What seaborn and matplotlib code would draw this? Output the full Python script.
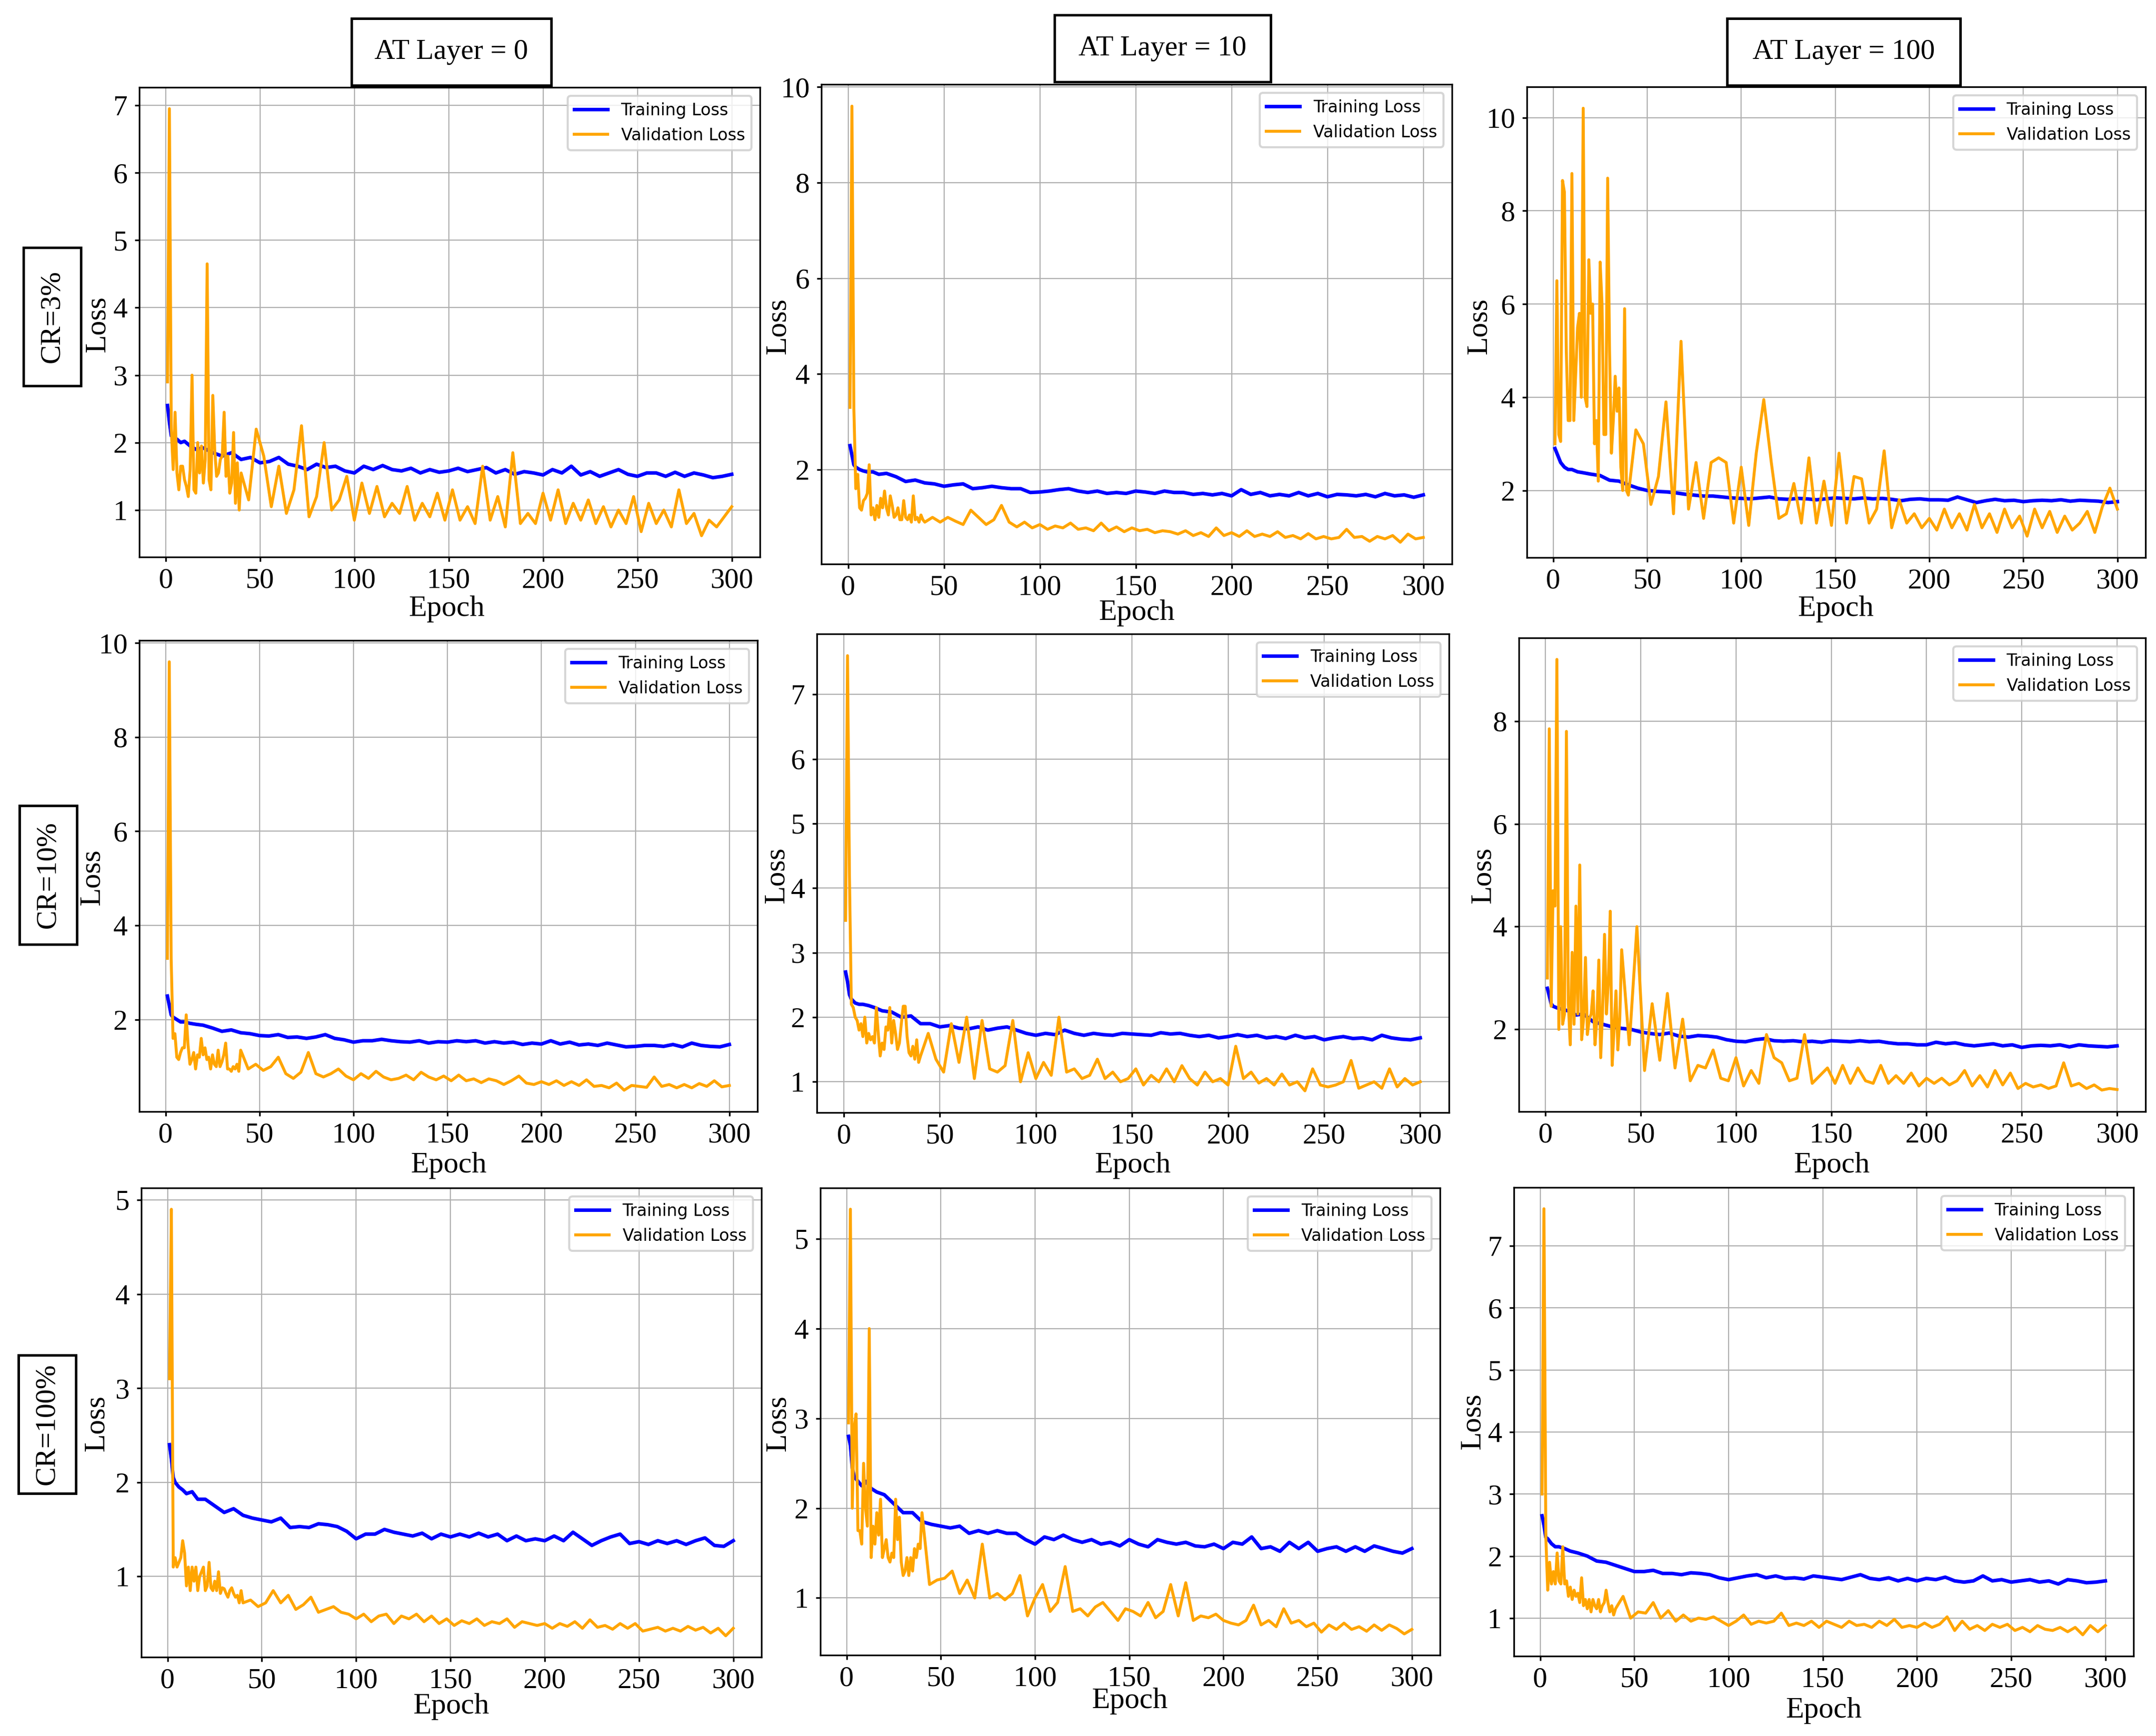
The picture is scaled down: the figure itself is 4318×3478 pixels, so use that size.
import seaborn as sns
import matplotlib.pyplot as plt
from matplotlib.patches import Rectangle

EPOCH_TRAIN = [1, 2, 3, 4, 6, 8, 10, 13, 16,
               20, 25, 30, 35, 40, 45, 50, 55, 60, 65,
               70, 75, 80, 85, 90, 95, 100, 105, 110, 115,
               120, 125, 130, 135, 140, 145, 150, 155, 160, 165,
               170, 175, 180, 185, 190, 195, 200, 205, 210, 215,
               220, 225, 230, 235, 240, 245, 250, 255, 260, 265,
               270, 275, 280, 285, 290, 295, 300]
EPOCH_VAL = [1, 2, 3, 4, 5, 6, 7, 8, 9, 10,
             11, 12, 13, 14, 15, 16, 17, 18, 19, 20,
             21, 22, 23, 24, 25, 26, 27, 28, 29, 30,
             31, 32, 33, 34, 35, 36, 37, 38, 39, 40,
             44, 48, 52, 56, 60, 64, 68, 72, 76, 80,
             84, 88, 92, 96, 100, 104, 108, 112, 116, 120,
             124, 128, 132, 136, 140, 144, 148, 152, 156, 160,
             164, 168, 172, 176, 180, 184, 188, 192, 196, 200,
             204, 208, 212, 216, 220, 224, 228, 232, 236, 240,
             244, 248, 252, 256, 260, 264, 268, 272, 276, 280,
             284, 288, 292, 296, 300]

# CR=3%
train_cr3_at0 = [2.55, 2.3, 2.1, 2.08, 2.05, 2.0, 2.02, 1.95, 1.9,
                 1.92, 1.85, 1.8, 1.85, 1.75, 1.78, 1.7, 1.72, 1.78, 1.68,
                 1.65, 1.6, 1.68, 1.63, 1.65, 1.58, 1.55, 1.65, 1.6, 1.66,
                 1.6, 1.58, 1.62, 1.55, 1.6, 1.56, 1.58, 1.62, 1.57, 1.6,
                 1.63, 1.55, 1.6, 1.53, 1.57, 1.55, 1.52, 1.6, 1.55, 1.65,
                 1.52, 1.57, 1.5, 1.55, 1.6, 1.53, 1.5, 1.55, 1.55, 1.5,
                 1.56, 1.5, 1.55, 1.52, 1.48, 1.5, 1.53]
val_cr3_at0 = [2.9, 6.95, 2.2, 1.6, 2.45, 1.55, 1.3, 1.65, 1.65, 1.45,
               1.35, 1.2, 1.6, 3.0, 1.3, 1.25, 2.0, 1.55, 1.95, 1.4,
               1.75, 4.65, 1.45, 1.3, 2.7, 1.9, 1.5, 1.55, 1.75, 1.8,
               2.45, 1.5, 1.8, 1.25, 1.4, 2.15, 1.1, 1.7, 1.0, 1.55,
               1.15, 2.2, 1.8, 1.05, 1.65, 0.95, 1.3, 2.25, 0.9, 1.2,
               2.0, 1.0, 1.15, 1.5, 0.85, 1.4, 0.95, 1.35, 0.9, 1.1,
               0.95, 1.35, 0.85, 1.1, 0.9, 1.25, 0.85, 1.3, 0.85, 1.05,
               0.8, 1.65, 0.85, 1.2, 0.75, 1.85, 0.8, 0.95, 0.8, 1.25,
               0.85, 1.3, 0.8, 1.1, 0.85, 1.15, 0.8, 1.05, 0.75, 1.0,
               0.8, 1.2, 0.68, 1.1, 0.8, 1.0, 0.75, 1.3, 0.8, 0.95,
               0.62, 0.85, 0.75, 0.9, 1.05]

train_cr3_at10 = [2.5, 2.3, 2.1, 2.05, 2.0, 1.97, 1.95, 1.95, 1.9,
                  1.92, 1.85, 1.75, 1.78, 1.72, 1.7, 1.65, 1.68, 1.7, 1.6,
                  1.62, 1.65, 1.62, 1.6, 1.6, 1.52, 1.53, 1.55, 1.58, 1.6,
                  1.55, 1.52, 1.55, 1.5, 1.52, 1.5, 1.55, 1.53, 1.5, 1.55,
                  1.52, 1.52, 1.48, 1.5, 1.47, 1.5, 1.45, 1.58, 1.48, 1.52,
                  1.45, 1.48, 1.45, 1.52, 1.45, 1.5, 1.43, 1.48, 1.47, 1.45,
                  1.48, 1.43, 1.5, 1.45, 1.47, 1.42, 1.47]
val_cr3_at10 = [3.3, 9.6, 3.3, 1.6, 1.9, 1.2, 1.15, 1.35, 1.4, 1.5,
                2.1, 1.05, 1.2, 0.95, 1.25, 1.0, 1.4, 1.2, 1.55, 1.2,
                1.05, 1.45, 1.25, 1.0, 1.05, 1.2, 0.95, 0.95, 1.35, 1.0,
                0.95, 1.05, 0.9, 1.45, 0.95, 1.0, 0.9, 1.05, 0.95, 0.9,
                1.0, 0.9, 1.0, 0.92, 0.85, 1.15, 1.0, 0.85, 0.95, 1.25,
                0.9, 0.8, 0.9, 0.78, 0.85, 0.75, 0.82, 0.78, 0.88, 0.75,
                0.78, 0.72, 0.88, 0.72, 0.8, 0.7, 0.78, 0.72, 0.75, 0.68,
                0.72, 0.7, 0.65, 0.72, 0.62, 0.68, 0.6, 0.78, 0.62, 0.68,
                0.6, 0.72, 0.6, 0.65, 0.6, 0.7, 0.58, 0.62, 0.55, 0.66,
                0.55, 0.6, 0.55, 0.58, 0.75, 0.58, 0.6, 0.5, 0.6, 0.55,
                0.62, 0.48, 0.65, 0.55, 0.58]

train_cr3_at100 = [2.9, 2.8, 2.7, 2.6, 2.5, 2.45, 2.45, 2.4, 2.38,
                   2.35, 2.32, 2.22, 2.2, 2.12, 2.05, 2.0, 1.98, 1.97, 1.95,
                   1.92, 1.9, 1.88, 1.88, 1.86, 1.84, 1.83, 1.82, 1.84, 1.86,
                   1.82, 1.81, 1.83, 1.82, 1.8, 1.82, 1.84, 1.83, 1.82, 1.84,
                   1.82, 1.83, 1.81, 1.78, 1.81, 1.82, 1.8, 1.8, 1.79, 1.86,
                   1.8, 1.74, 1.78, 1.81, 1.78, 1.79, 1.76, 1.78, 1.79, 1.78,
                   1.8, 1.77, 1.79, 1.78, 1.77, 1.74, 1.76]
val_cr3_at100 = [3.0, 6.5, 3.2, 3.05, 8.65, 8.4, 5.0, 3.5, 3.5, 8.8,
                 3.5, 4.5, 5.5, 5.8, 4.0, 10.2, 4.0, 3.8, 6.95, 5.8,
                 6.0, 3.0, 3.5, 2.2, 6.9, 6.0, 3.2, 3.2, 8.7, 5.0,
                 2.8, 3.5, 4.45, 3.7, 4.2, 2.5, 2.0, 5.9, 2.0, 1.9,
                 3.3, 3.0, 1.7, 2.3, 3.9, 1.5, 5.2, 1.6, 2.6, 1.4,
                 2.6, 2.7, 2.6, 1.3, 2.5, 1.25, 2.8, 3.95, 2.6, 1.4,
                 1.5, 2.15, 1.3, 2.7, 1.3, 2.2, 1.25, 2.8, 1.3, 2.3,
                 2.25, 1.3, 1.6, 2.85, 1.2, 1.8, 1.3, 1.5, 1.2, 1.4,
                 1.15, 1.6, 1.2, 1.5, 1.15, 1.7, 1.2, 1.5, 1.1, 1.6,
                 1.2, 1.45, 1.02, 1.6, 1.2, 1.55, 1.1, 1.45, 1.15, 1.3,
                 1.55, 1.1, 1.65, 2.05, 1.6]

# CR=10%
train_cr10_at0 = [2.5, 2.3, 2.1, 2.05, 2.0, 1.95, 1.95, 1.92, 1.9,
                  1.88, 1.82, 1.75, 1.78, 1.72, 1.7, 1.66, 1.65, 1.68, 1.62,
                  1.63, 1.6, 1.63, 1.68, 1.6, 1.57, 1.52, 1.55, 1.55, 1.58,
                  1.55, 1.53, 1.52, 1.55, 1.5, 1.53, 1.52, 1.55, 1.53, 1.55,
                  1.5, 1.53, 1.5, 1.52, 1.47, 1.5, 1.48, 1.55, 1.48, 1.52,
                  1.46, 1.48, 1.45, 1.5, 1.46, 1.42, 1.43, 1.45, 1.45, 1.43,
                  1.47, 1.42, 1.5, 1.45, 1.43, 1.42, 1.47]
val_cr10_at0 = [3.3, 9.6, 3.3, 1.6, 1.7, 1.2, 1.15, 1.3, 1.4, 1.4,
                2.1, 1.45, 1.05, 1.15, 1.3, 0.95, 1.25, 1.2, 1.6, 1.25,
                1.4, 1.15, 1.2, 0.95, 1.25, 1.05, 1.0, 1.35, 1.0, 1.1,
                1.25, 1.5, 0.95, 0.95, 0.9, 1.0, 0.95, 1.05, 0.9, 1.35,
                0.95, 1.05, 0.92, 1.0, 1.2, 0.85, 0.75, 0.88, 1.3, 0.85,
                0.78, 0.85, 0.95, 0.8, 0.72, 0.85, 0.75, 0.9, 0.78, 0.72,
                0.75, 0.82, 0.72, 0.88, 0.78, 0.72, 0.8, 0.7, 0.82, 0.7,
                0.74, 0.66, 0.74, 0.7, 0.62, 0.7, 0.8, 0.65, 0.62, 0.68,
                0.62, 0.7, 0.6, 0.68, 0.6, 0.72, 0.58, 0.6, 0.55, 0.65,
                0.5, 0.6, 0.58, 0.56, 0.78, 0.58, 0.62, 0.55, 0.62, 0.55,
                0.64, 0.58, 0.7, 0.57, 0.6]

train_cr10_at10 = [2.7, 2.55, 2.35, 2.28, 2.22, 2.2, 2.2, 2.18, 2.15,
                   2.1, 2.08, 2.0, 2.02, 1.9, 1.9, 1.85, 1.87, 1.83, 1.82,
                   1.85, 1.8, 1.83, 1.85, 1.8, 1.75, 1.72, 1.75, 1.73, 1.8,
                   1.75, 1.72, 1.75, 1.73, 1.72, 1.75, 1.74, 1.73, 1.72, 1.76,
                   1.74, 1.75, 1.72, 1.7, 1.72, 1.68, 1.7, 1.73, 1.7, 1.72,
                   1.68, 1.7, 1.67, 1.72, 1.68, 1.7, 1.65, 1.68, 1.7, 1.67,
                   1.68, 1.65, 1.72, 1.68, 1.66, 1.65, 1.68]
val_cr10_at10 = [3.5, 7.6, 4.2, 2.2, 2.15, 2.0, 1.95, 1.8, 1.9, 1.7,
                 2.0, 1.6, 1.75, 1.65, 1.7, 1.6, 2.15, 1.75, 1.4, 1.6,
                 1.5, 1.85, 1.8, 2.15, 1.6, 1.95, 1.75, 1.5, 1.6, 1.9,
                 2.17, 2.17, 1.7, 1.45, 1.4, 1.55, 1.35, 1.65, 1.3, 1.4,
                 1.75, 1.35, 1.15, 1.9, 1.3, 2.0, 1.05, 1.95, 1.2, 1.15,
                 1.25, 1.95, 1.0, 1.45, 1.05, 1.3, 1.1, 2.0, 1.15, 1.2,
                 1.05, 1.1, 1.35, 1.05, 1.15, 1.0, 1.05, 1.2, 0.95, 1.1,
                 1.0, 1.2, 1.0, 1.25, 1.05, 0.95, 1.15, 1.0, 1.05, 0.95,
                 1.55, 1.05, 1.15, 0.98, 1.05, 0.95, 1.12, 0.95, 1.0, 0.86,
                 1.2, 0.95, 0.92, 0.95, 1.0, 1.33, 0.9, 0.95, 1.0, 0.9,
                 1.2, 0.92, 1.05, 0.95, 1.0]

train_cr10_at100 = [2.8, 2.65, 2.5, 2.45, 2.42, 2.4, 2.38, 2.35, 2.28,
                    2.3, 2.15, 2.1, 2.05, 2.02, 2.0, 1.95, 1.92, 1.9, 1.93,
                    1.87, 1.85, 1.88, 1.87, 1.85, 1.8, 1.77, 1.76, 1.8, 1.82,
                    1.78, 1.77, 1.78, 1.76, 1.77, 1.75, 1.78, 1.77, 1.76, 1.78,
                    1.76, 1.77, 1.74, 1.72, 1.72, 1.7, 1.7, 1.75, 1.72, 1.74,
                    1.7, 1.68, 1.7, 1.72, 1.68, 1.7, 1.65, 1.68, 1.69, 1.68,
                    1.7, 1.66, 1.7, 1.68, 1.67, 1.66, 1.68]
val_cr10_at100 = [3.0, 7.85, 2.45, 4.7, 4.4, 9.2, 2.0, 4.0, 2.1, 2.3,
                  7.8, 2.5, 1.7, 3.5, 2.1, 4.4, 2.3, 5.2, 1.8, 2.2,
                  3.4, 1.9, 2.2, 2.3, 2.75, 1.7, 2.2, 3.35, 1.45, 2.4,
                  3.85, 2.3, 2.9, 4.3, 1.3, 2.0, 2.75, 1.6, 2.2, 3.55,
                  1.7, 4.0, 1.2, 2.5, 1.4, 2.7, 1.25, 2.2, 1.0, 1.3,
                  1.25, 1.6, 1.05, 1.0, 1.45, 0.9, 1.2, 0.95, 1.9, 1.45,
                  1.35, 1.0, 1.05, 1.9, 0.95, 1.1, 1.25, 0.95, 1.3, 0.95,
                  1.25, 1.0, 0.95, 1.3, 0.95, 1.1, 0.95, 1.15, 0.9, 1.05,
                  0.95, 1.05, 0.92, 1.0, 1.2, 0.9, 1.1, 0.88, 1.2, 0.92,
                  1.15, 0.85, 0.95, 0.88, 0.92, 0.85, 0.9, 1.35, 0.9, 0.95,
                  0.85, 0.92, 0.82, 0.85, 0.83]

# CR=100%
train_cr100_at0 = [2.4, 2.25, 2.05, 2.0, 1.95, 1.92, 1.88, 1.9, 1.82,
                   1.82, 1.75, 1.68, 1.72, 1.65, 1.62, 1.6, 1.58, 1.62, 1.52,
                   1.53, 1.52, 1.56, 1.55, 1.53, 1.48, 1.4, 1.45, 1.45, 1.5,
                   1.47, 1.45, 1.43, 1.46, 1.4, 1.45, 1.42, 1.45, 1.42, 1.46,
                   1.42, 1.45, 1.38, 1.43, 1.38, 1.4, 1.38, 1.43, 1.38, 1.47,
                   1.4, 1.33, 1.38, 1.42, 1.45, 1.35, 1.37, 1.34, 1.38, 1.35,
                   1.38, 1.34, 1.38, 1.41, 1.33, 1.32, 1.38]
val_cr100_at0 = [3.1, 4.9, 1.1, 1.2, 1.1, 1.15, 1.2, 1.38, 1.25, 0.9,
                 1.1, 0.85, 1.1, 0.95, 1.1, 0.85, 1.0, 1.05, 1.1, 0.85,
                 0.9, 1.15, 0.88, 0.85, 0.95, 0.85, 1.05, 0.82, 0.88, 0.87,
                 0.82, 0.78, 0.85, 0.88, 0.82, 0.78, 0.8, 0.72, 0.85, 0.72,
                 0.75, 0.68, 0.72, 0.85, 0.72, 0.8, 0.65, 0.7, 0.78, 0.62,
                 0.65, 0.68, 0.62, 0.6, 0.55, 0.6, 0.52, 0.58, 0.6, 0.5,
                 0.58, 0.55, 0.6, 0.52, 0.58, 0.5, 0.55, 0.48, 0.53, 0.5,
                 0.55, 0.48, 0.52, 0.5, 0.55, 0.46, 0.52, 0.5, 0.48, 0.5,
                 0.45, 0.5, 0.47, 0.52, 0.45, 0.54, 0.46, 0.48, 0.44, 0.5,
                 0.45, 0.5, 0.42, 0.44, 0.46, 0.42, 0.45, 0.42, 0.47, 0.43,
                 0.46, 0.4, 0.45, 0.37, 0.45]

train_cr100_at10 = [2.8, 2.7, 2.45, 2.35, 2.3, 2.25, 2.3, 2.22, 2.18,
                    2.15, 2.05, 1.95, 1.95, 1.85, 1.82, 1.8, 1.78, 1.8, 1.72,
                    1.75, 1.72, 1.75, 1.72, 1.72, 1.65, 1.6, 1.68, 1.65, 1.7,
                    1.65, 1.62, 1.65, 1.6, 1.62, 1.58, 1.65, 1.6, 1.57, 1.65,
                    1.62, 1.6, 1.62, 1.58, 1.57, 1.6, 1.55, 1.62, 1.6, 1.68,
                    1.55, 1.57, 1.52, 1.62, 1.55, 1.62, 1.52, 1.55, 1.57, 1.52,
                    1.57, 1.52, 1.58, 1.55, 1.52, 1.5, 1.55]
val_cr100_at10 = [2.95, 5.33, 2.0, 2.9, 3.05, 1.75, 1.75, 1.6, 2.5, 2.0,
                  1.8, 4.0, 1.45, 1.8, 1.6, 1.95, 1.7, 2.1, 1.45, 1.55,
                  1.65, 1.45, 1.4, 1.5, 1.45, 2.1, 1.65, 1.9, 1.4, 1.25,
                  1.3, 1.45, 1.25, 1.45, 1.3, 1.55, 1.45, 1.6, 1.55, 1.95,
                  1.15, 1.2, 1.22, 1.3, 1.05, 1.2, 1.0, 1.6, 1.0, 1.05,
                  0.98, 1.05, 1.25, 0.8, 1.0, 1.15, 0.85, 0.95, 1.35, 0.85,
                  0.88, 0.8, 0.9, 0.95, 0.85, 0.75, 0.88, 0.85, 0.8, 0.95,
                  0.78, 0.85, 1.15, 0.8, 1.17, 0.75, 0.8, 0.78, 0.82, 0.75,
                  0.72, 0.7, 0.75, 0.92, 0.7, 0.75, 0.68, 0.88, 0.72, 0.75,
                  0.68, 0.72, 0.62, 0.7, 0.65, 0.72, 0.65, 0.68, 0.63, 0.7,
                  0.64, 0.7, 0.66, 0.6, 0.65]

train_cr100_at100 = [2.65, 2.5, 2.3, 2.28, 2.2, 2.15, 2.15, 2.12, 2.08,
                     2.05, 2.0, 1.92, 1.9, 1.85, 1.8, 1.75, 1.75, 1.77, 1.72,
                     1.72, 1.7, 1.73, 1.72, 1.7, 1.65, 1.62, 1.65, 1.68, 1.7,
                     1.65, 1.68, 1.64, 1.65, 1.63, 1.68, 1.66, 1.64, 1.62, 1.66,
                     1.7, 1.64, 1.62, 1.65, 1.6, 1.64, 1.6, 1.64, 1.62, 1.66,
                     1.6, 1.58, 1.6, 1.68, 1.6, 1.62, 1.58, 1.6, 1.62, 1.58,
                     1.6, 1.55, 1.62, 1.6, 1.57, 1.58, 1.6]
val_cr100_at100 = [3.0, 7.6, 2.3, 1.45, 1.9, 1.55, 1.75, 1.55, 2.05, 1.6,
                   1.55, 2.15, 1.55, 1.6, 1.35, 1.5, 1.3, 1.45, 1.35, 1.4,
                   1.25, 1.65, 1.2, 1.3, 1.15, 1.3, 1.1, 1.3, 1.2, 1.15,
                   1.3, 1.1, 1.2, 1.25, 1.45, 1.25, 1.1, 1.2, 1.05, 1.15,
                   1.35, 1.0, 1.1, 1.08, 1.25, 1.0, 1.12, 0.95, 1.05, 0.95,
                   1.0, 0.98, 1.02, 0.95, 0.88, 0.95, 1.05, 0.9, 0.95, 0.92,
                   0.95, 1.08, 0.88, 0.92, 0.88, 0.95, 0.85, 0.95, 0.9, 0.85,
                   0.95, 0.88, 0.9, 0.85, 0.95, 0.88, 0.98, 0.85, 0.88, 0.85,
                   0.92, 0.85, 0.9, 1.02, 0.8, 0.95, 0.82, 0.88, 0.8, 0.9,
                   0.85, 0.9, 0.8, 0.85, 0.78, 0.88, 0.82, 0.8, 0.85, 0.78,
                   0.85, 0.73, 0.88, 0.78, 0.88]

COL_TITLES = ["AT Layer = 0", "AT Layer = 10", "AT Layer = 100"]
ROW_TITLES = ["CR=3%", "CR=10%", "CR=100%"]

TRAIN = [[train_cr3_at0, train_cr3_at10, train_cr3_at100],
         [train_cr10_at0, train_cr10_at10, train_cr10_at100],
         [train_cr100_at0, train_cr100_at10, train_cr100_at100]]
VAL = [[val_cr3_at0, val_cr3_at10, val_cr3_at100],
       [val_cr10_at0, val_cr10_at10, val_cr10_at100],
       [val_cr100_at0, val_cr100_at10, val_cr100_at100]]

# layout in output pixels (left, right, top, bottom)
W, H = 4318, 3478
AX_BOX = [[(279, 1522, 175, 1116), (1645, 2908, 169, 1130), (3058, 4297, 174, 1117)],
          [(279, 1517, 1283, 2227), (1636, 2902, 1270, 2229), (3042, 4297, 1278, 2227)],
          [(283, 1525, 2380, 3320), (1643, 2884, 2380, 3316), (3032, 4273, 2379, 3318)]]
LOSS_AT = [[(196, 650), (1559, 654), (2963, 654)],
           [(185, 1758), (1556, 1754), (2971, 1754)],
           [(194, 2852), (1559, 2852), (2950, 2848)]]
EPOCH_AT = [[(894, 1220), (2276, 1228), (3677, 1220)],
            [(898, 2335), (2269, 2335), (3669, 2335)],
            [(904, 3419), (2263, 3408), (3652, 3427)]]
TITLE_BOX = [(704, 1104, 37, 171), (2112, 2545, 30, 164), (3459, 3926, 37, 171)]
ROW_BOX = [(47, 162, 496, 773), (39, 154, 1614, 1892), (37, 152, 2715, 2992)]

plt.rcParams['font.family'] = ['Liberation Serif', 'DejaVu Serif']
fig = plt.figure(figsize=(W / 300, H / 300), dpi=300)

for i in range(3):
    for j in range(3):
        l, r, t, b = AX_BOX[i][j]
        ax = fig.add_axes([l / W, 1 - b / H, (r - l) / W, (b - t) / H])
        sns.lineplot(x=EPOCH_TRAIN, y=TRAIN[i][j], ax=ax, color='blue', linewidth=1.7,
                     label='Training Loss')
        sns.lineplot(x=EPOCH_VAL, y=VAL[i][j], ax=ax, color='orange', linewidth=1.4,
                     label='Validation Loss')
        ax.grid(True, color='#b0b0b0', linewidth=0.55)
        ax.set_xticks([0, 50, 100, 150, 200, 250, 300])
        ax.tick_params(labelsize=13.8, length=2.2, width=0.8)
        ax.tick_params(axis='x', pad=3)
        ax.legend(loc='upper right', prop={'family': 'DejaVu Sans', 'size': 8})

        ax.set_ylabel('Loss', fontsize=14.3, va='center')
        cx, cy = LOSS_AT[i][j]
        ax.yaxis.set_label_coords((cx - l) / (r - l), (b - cy) / (b - t))
        ax.set_xlabel('Epoch', fontsize=14.3, va='center')
        cx, cy = EPOCH_AT[i][j]
        ax.xaxis.set_label_coords((cx - l) / (r - l), (b - cy) / (b - t))

# column headers and row headers in framed boxes
for text, (x0, x1, y0, y1) in zip(COL_TITLES, TITLE_BOX):
    fig.add_artist(Rectangle((x0 / W, 1 - y1 / H), (x1 - x0) / W, (y1 - y0) / H,
                             transform=fig.transFigure, fill=False, ec='black', lw=1.2))
    fig.text((x0 + x1) / 2 / W, 1 - (y0 + y1) / 2 / H, text, ha='center', va='center',
             fontsize=13.8)

for text, (x0, x1, y0, y1) in zip(ROW_TITLES, ROW_BOX):
    fig.add_artist(Rectangle((x0 / W, 1 - y1 / H), (x1 - x0) / W, (y1 - y0) / H,
                             transform=fig.transFigure, fill=False, ec='black', lw=1.2))
    fig.text((x0 + x1) / 2 / W, 1 - (y0 + y1) / 2 / H, text, ha='center', va='center',
             rotation=90, fontsize=13.8)

fig.savefig('out.png', dpi=300)
plt.close(fig)
